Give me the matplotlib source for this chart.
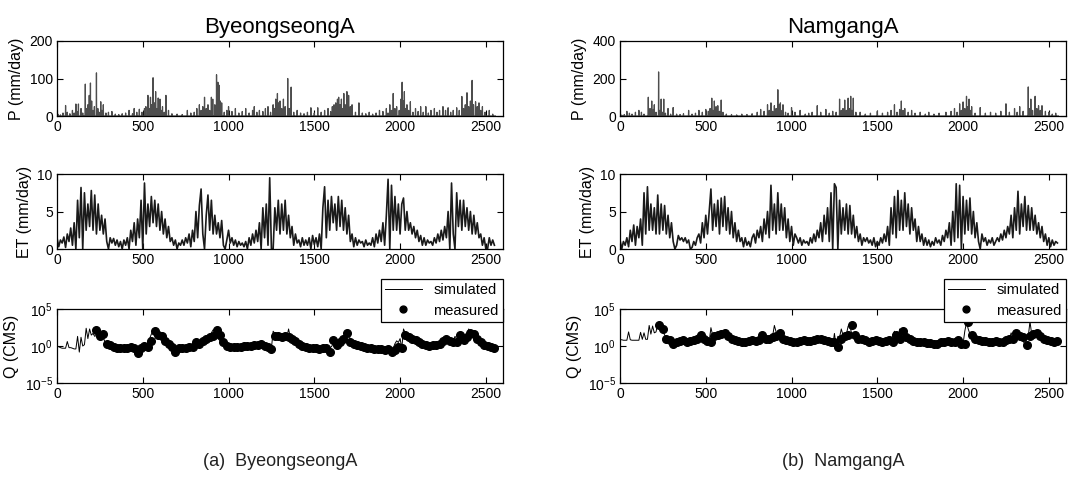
import numpy as np
import matplotlib
matplotlib.use('Agg')
import matplotlib.pyplot as plt

plt.rcParams['font.family'] = ['Liberation Sans', 'DejaVu Sans']

n_days = 2557
sites = ['ByeongseongA', 'NamgangA']
captions = ['(a)  ByeongseongA', '(b)  NamgangA']

# precipitation events (day, mm/day) -- zero on other days
p_days_a = [5, 20, 35, 50, 60, 75, 90, 100, 110, 118, 125, 140, 150, 165, 172, 180, 188, 195, 202, 210, 218, 230, 238, 245, 255, 262, 270, 285, 300, 320, 340, 360, 380, 400, 420, 440, 450, 465, 480, 495, 510, 518, 530, 538, 545, 552, 560, 568, 575, 582, 590, 600, 608, 615, 625, 635, 650, 670, 700, 730, 760, 780, 800, 815, 830, 840, 850, 860, 870, 880, 890, 900, 908, 920, 930, 938, 945, 952, 960, 975, 990, 1000, 1020, 1040, 1060, 1080, 1100, 1120, 1140, 1150, 1165, 1180, 1200, 1215, 1230, 1245, 1260, 1268, 1275, 1285, 1292, 1300, 1310, 1320, 1330, 1345, 1352, 1360, 1365, 1380, 1400, 1420, 1440, 1460, 1480, 1500, 1520, 1540, 1560, 1580, 1595, 1605, 1615, 1625, 1635, 1642, 1650, 1658, 1665, 1672, 1680, 1690, 1700, 1710, 1720, 1740, 1760, 1780, 1800, 1820, 1840, 1860, 1880, 1900, 1920, 1930, 1940, 1950, 1960, 1970, 1980, 1995, 2005, 2012, 2020, 2025, 2032, 2040, 2050, 2060, 2075, 2090, 2105, 2120, 2135, 2150, 2165, 2180, 2200, 2215, 2230, 2250, 2265, 2280, 2295, 2310, 2330, 2345, 2360, 2370, 2380, 2390, 2400, 2410, 2420, 2428, 2440, 2450, 2460, 2470, 2480, 2495, 2520, 2540]
p_vals_a = [5, 3, 8, 28, 10, 6, 15, 8, 32, 12, 32, 20, 8, 85, 20, 30, 55, 88, 40, 15, 25, 115, 20, 10, 38, 15, 30, 8, 10, 12, 5, 4, 6, 8, 15, 6, 20, 10, 18, 10, 20, 25, 55, 20, 50, 30, 102, 35, 65, 20, 48, 45, 15, 25, 10, 55, 15, 6, 5, 4, 15, 8, 10, 20, 30, 15, 25, 50, 20, 30, 15, 50, 45, 30, 110, 90, 82, 40, 35, 10, 15, 25, 12, 20, 8, 12, 20, 8, 15, 25, 10, 15, 12, 20, 25, 10, 30, 20, 45, 60, 35, 40, 20, 45, 25, 100, 20, 20, 77, 10, 15, 8, 6, 10, 22, 8, 22, 10, 15, 20, 12, 25, 30, 35, 45, 50, 30, 45, 20, 60, 30, 65, 55, 25, 30, 10, 35, 8, 6, 10, 5, 8, 15, 12, 20, 8, 30, 15, 60, 20, 25, 15, 45, 90, 40, 65, 20, 30, 15, 38, 10, 20, 12, 25, 10, 25, 8, 15, 20, 10, 15, 25, 15, 22, 10, 15, 22, 15, 52, 20, 30, 62, 25, 40, 95, 30, 38, 25, 35, 15, 25, 10, 15, 5]

p_days_b = [10, 25, 40, 55, 70, 90, 110, 125, 140, 165, 175, 185, 195, 200, 210, 225, 232, 240, 248, 255, 265, 280, 295, 310, 330, 350, 370, 400, 420, 440, 460, 480, 500, 515, 525, 535, 542, 550, 560, 570, 580, 590, 600, 620, 650, 680, 710, 740, 770, 800, 820, 840, 860, 870, 880, 890, 900, 910, 920, 928, 935, 945, 950, 965, 980, 1000, 1020, 1050, 1080, 1100, 1120, 1150, 1170, 1200, 1220, 1240, 1260, 1280, 1290, 1300, 1310, 1320, 1330, 1338, 1345, 1352, 1360, 1375, 1400, 1430, 1460, 1500, 1530, 1560, 1580, 1600, 1615, 1630, 1640, 1650, 1660, 1680, 1700, 1720, 1750, 1780, 1800, 1830, 1860, 1900, 1930, 1950, 1965, 1980, 1990, 2000, 2010, 2020, 2028, 2035, 2042, 2050, 2070, 2100, 2130, 2160, 2190, 2220, 2250, 2270, 2300, 2315, 2330, 2350, 2380, 2388, 2395, 2405, 2420, 2430, 2440, 2450, 2460, 2480, 2500, 2520, 2540]
p_vals_b = [5, 8, 25, 15, 10, 20, 30, 20, 10, 100, 40, 80, 35, 60, 20, 235, 30, 90, 20, 90, 15, 40, 10, 45, 10, 8, 12, 30, 10, 15, 30, 20, 35, 25, 40, 95, 30, 80, 50, 55, 25, 85, 20, 10, 8, 6, 10, 8, 12, 20, 35, 25, 60, 30, 70, 25, 55, 40, 140, 60, 70, 30, 60, 20, 15, 45, 20, 30, 10, 15, 20, 55, 20, 35, 15, 25, 20, 90, 30, 40, 85, 30, 95, 40, 105, 30, 95, 20, 20, 10, 15, 25, 15, 20, 30, 60, 20, 35, 80, 30, 40, 20, 30, 15, 20, 10, 20, 10, 15, 20, 25, 40, 20, 65, 30, 75, 40, 105, 50, 90, 30, 50, 15, 45, 15, 20, 15, 25, 65, 20, 40, 20, 50, 25, 155, 40, 90, 30, 105, 40, 55, 30, 55, 25, 20, 10, 15]

# ET, one value every 10 days (mm/day)
et_a = [1.5, 0.3, 1.2, 0.8, 1.6, 0.2, 2.0, 1.0, 2.8, 0.5, 3.5, 0.0, 6.5, 1.5, 8.2, 0.0, 7.5, 2.5, 6.0, 3.0, 7.8, 2.5, 7.2, 2.0, 6.0, 2.5, 4.5, 2.0, 4.0, 1.0, 0.0, 1.5, 0.8, 1.4, 0.5, 1.2, 0.3,
        1.0, 0.0, 1.2, 0.5, 1.5, 0.0, 2.5, 1.0, 3.5, 0.5, 4.0, 1.5, 6.5, 0.0, 8.8, 2.0, 6.0, 3.0, 7.0, 3.5, 6.5, 3.0, 6.0, 2.5, 5.0, 2.0, 4.0, 1.5, 3.0, 1.0, 1.5, 0.5, 1.2, 0.0, 0.8, 0.5,
        1.2, 0.5, 1.5, 0.8, 2.0, 0.3, 2.5, 1.0, 5.0, 1.5, 5.8, 8.0, 2.0, 0.0, 4.5, 7.2, 2.5, 6.5, 2.0, 4.5, 2.0, 3.5, 1.5, 3.8, 0.5, 0.0, 1.2, 2.5, 0.8, 1.5, 0.5, 1.2, 0.3, 1.0, 0.5, 0.8, 0.3,
        1.0, 0.0, 1.5, 0.5, 2.0, 0.8, 2.5, 1.0, 3.5, 0.0, 5.5, 1.5, 6.0, 0.5, 9.5, 0.0, 0.0, 5.5, 2.5, 6.5, 2.0, 6.0, 2.5, 6.5, 2.0, 4.5, 1.5, 3.0, 0.5, 2.0, 0.8, 1.2, 0.3, 1.5, 0.5, 1.2,
        0.5, 1.5, 0.0, 1.8, 0.6, 1.5, 0.3, 2.0, 0.0, 5.5, 8.3, 1.5, 6.5, 2.5, 7.0, 3.5, 6.0, 2.5, 7.0, 3.0, 6.5, 2.5, 5.5, 2.0, 4.5, 1.0, 2.0, 0.3, 1.5, 0.5, 1.2, 0.8, 1.0, 0.3, 1.2, 0.5, 0.8,
        0.5, 1.5, 0.3, 2.0, 0.8, 2.5, 1.0, 3.5, 0.5, 4.5, 9.3, 0.0, 8.5, 2.5, 7.0, 2.5, 6.0, 2.0, 6.0, 6.8, 2.5, 5.0, 2.5, 3.5, 2.0, 3.0, 1.5, 2.5, 1.0, 1.8, 0.5, 1.5, 0.5, 1.2, 0.8, 1.0, 0.5,
        1.5, 0.8, 2.0, 1.0, 2.5, 1.2, 3.0, 1.5, 5.0, 0.0, 8.8, 2.0, 0.0, 7.5, 3.0, 6.5, 2.5, 6.5, 3.0, 5.5, 2.5, 5.0, 2.0, 4.5, 2.0, 3.5, 1.5, 2.0, 0.5, 1.5, 0.0, 0.0, 1.5, 0.5, 1.2, 0.5]
et_b = [1.2, 0.0, 1.0, 0.5, 1.5, 0.3, 2.5, 1.0, 3.2, 0.5, 3.0, 1.5, 4.0, 0.5, 7.5, 2.0, 8.3, 2.5, 6.0, 2.5, 5.5, 2.0, 7.2, 2.0, 6.0, 2.5, 5.8, 2.0, 4.5, 1.5, 3.5, 1.0, 0.0, 0.5, 1.8, 1.2, 1.5,
        1.0, 1.5, 0.8, 1.2, 0.0, 0.2, 1.0, 0.5, 1.5, 2.0, 0.8, 3.5, 1.5, 4.5, 2.0, 5.0, 8.0, 2.5, 6.0, 3.0, 6.5, 2.0, 6.8, 3.0, 7.0, 2.5, 5.5, 2.0, 5.0, 1.5, 3.5, 1.0, 2.5, 1.0, 1.5, 0.3,
        1.5, 0.5, 1.0, 0.3, 1.5, 2.0, 0.8, 2.5, 1.5, 3.0, 1.0, 4.0, 2.0, 5.0, 1.5, 8.5, 2.5, 6.0, 2.0, 7.5, 2.5, 6.0, 2.5, 5.5, 1.5, 4.0, 1.0, 3.0, 0.5, 2.0, 1.5, 0.8, 1.5, 0.5, 1.2, 0.8, 1.0,
        0.5, 1.5, 0.8, 2.0, 1.0, 2.5, 1.5, 3.5, 1.0, 4.5, 2.0, 5.5, 1.0, 7.5, 0.0, 8.7, 8.2, 0.0, 6.5, 2.0, 5.5, 2.5, 6.0, 2.0, 5.8, 2.0, 4.5, 1.5, 3.0, 1.0, 2.0, 0.5, 1.5, 1.0, 1.5, 0.8,
        1.2, 0.5, 1.5, 0.3, 1.0, 0.5, 1.5, 0.8, 2.0, 1.0, 3.0, 0.5, 5.5, 2.0, 7.0, 1.5, 7.8, 2.5, 6.5, 2.5, 7.5, 3.0, 6.0, 2.0, 5.5, 2.5, 4.0, 1.0, 3.0, 1.0, 2.0, 0.5, 1.5, 0.5, 1.2, 0.3, 1.0,
        0.5, 1.5, 0.8, 1.2, 0.5, 1.8, 1.0, 2.5, 1.5, 3.5, 0.5, 5.0, 1.0, 8.7, 1.5, 8.5, 0.0, 7.0, 2.0, 6.5, 2.5, 6.8, 2.0, 5.0, 1.5, 3.5, 1.0, 0.0, 2.0, 1.0, 1.5, 0.5, 1.2, 0.8, 1.5, 0.5, 1.0,
        1.5, 1.0, 2.0, 1.2, 2.5, 1.5, 3.0, 2.0, 4.5, 1.5, 5.5, 2.5, 7.7, 2.0, 6.0, 3.0, 7.0, 2.5, 5.8, 2.5, 5.5, 2.5, 4.5, 2.0, 3.5, 1.5, 3.0, 1.0, 2.0, 0.5, 1.5, 0.3, 1.2, 0.5, 1.0, 0.8]

# simulated discharge, one value every 10 days (CMS)
q_sim_a = [1.0, 0.8, 0.6, 0.5, 0.5, 0.5, 4.0, 0.6, 0.6, 0.5, 0.4, 0.4, 20, 0.15, 15, 1.0, 1.5, 250, 10, 200, 30, 50, 20, 30, 150, 40, 10, 15, 3, 1.5, 1.0, 0.8, 0.7, 0.6, 0.6, 0.5, 0.5,
           0.5, 0.6, 0.5, 0.7, 0.8, 0.6, 0.5, 0.7, 0.6, 0.4, 0.5, 0.7, 0.8, 1.0,
           1.2, 1.5, 3.0, 10, 40, 80, 60, 30, 15, 10, 8, 5, 3, 2.5, 2,
           1.5, 1.0, 0.8, 0.5, 0.4, 0.5, 0.6, 0.7, 0.6, 0.7, 0.8, 0.9, 1.0, 1.2, 1.5,
           2, 3, 2.5, 4, 3, 5, 8, 10, 20, 60, 150, 80, 30, 10, 5,
           3, 2, 1.5, 1.2, 1.0, 0.8, 0.7, 0.8, 0.9, 0.8, 0.7, 0.8, 1.0, 1.2, 1.0,
           0.8, 1.0, 1.5, 2, 1.5, 1.2, 1.5, 2, 1.5, 1.0, 0.8, 1.0, 1.5, 0.6, 0.5,
           100, 50, 30, 20, 25, 15, 40, 20, 15, 200, 15, 10, 8, 5, 3,
           2.5, 2, 1.5, 1.2, 1.0, 0.8, 0.7, 0.6, 0.5, 0.6, 0.7, 0.5, 0.4, 0.5, 0.6,
           0.5, 0.3, 0.4, 0.6, 0.8, 2.0, 5, 3, 2, 4, 5, 3, 4, 10, 40,
           8, 4, 3, 2, 1.5, 1.2, 1.0, 0.8, 0.6, 0.5, 0.5, 0.4, 0.4, 0.3, 0.4,
           0.4, 0.4, 0.3, 0.4, 0.5, 0.4, 0.3, 0.2, 0.3, 0.4, 0.5, 2, 5, 3, 10,
           0.5, 200, 60, 30, 20, 15, 10, 8, 5, 4, 3, 2, 1.5, 1.2, 1.0,
           1.0, 0.8, 1.0, 1.2, 1.5, 2, 3, 2, 5, 8, 6, 5, 4, 3, 8,
           5, 20, 10, 5, 4, 5, 8, 6, 30, 200, 80, 40, 20, 10, 5,
           3, 2, 1.5, 1.2, 1.0, 0.8, 0.7, 0.6, 0.6, 0.6]
q_sim_b = [7, 7, 6, 6, 6, 80, 7, 6, 6, 6, 6, 6, 70, 8, 60, 8, 8, 600, 40, 500, 60, 80, 1000, 400, 150, 100, 30, 15, 10, 6, 3, 4, 5, 5, 5, 6, 6,
           5, 4, 5, 6, 5, 6, 7, 10, 30, 15, 10, 8, 6, 5,
           5, 4, 300, 30, 25, 30, 40, 60, 50, 25, 20, 12, 10, 8, 7,
           6, 5, 5, 4, 4, 4, 5, 5, 6, 5, 6, 6, 7, 8, 10,
           8, 20, 30, 15, 10, 8, 15, 20, 25, 600, 80, 40, 15, 10, 8,
           6, 5, 5, 4, 4, 4, 5, 6, 5, 5, 6, 5, 6, 8, 10,
           6, 5, 6, 8, 12, 10, 8, 6, 5, 4, 3, 3, 2, 1, 50,
           1, 20, 15, 200, 30, 25, 40, 500, 600, 50, 30, 15, 10, 8, 6,
           5, 4, 4, 5, 6, 5, 4, 4, 5, 5, 4, 5, 6, 5, 4,
           4, 5, 4, 30, 100, 20, 10, 200, 30, 10, 8, 6, 5, 4, 4,
           3, 3, 3, 3, 3, 2.5, 2.5, 2.5, 2, 2, 2, 2, 2.5, 3, 3,
           3, 4, 4, 5, 5, 4, 4, 3, 3, 4, 6, 5, 3, 2, 2,
           100, 1500, 200, 40, 20, 12, 10, 8, 6, 5, 5, 5, 4, 4, 4,
           4, 4, 5, 5, 4, 4, 5, 6, 8, 10, 10, 8, 60, 15, 10,
           60, 20, 15, 10, 5, 1.5, 10, 20, 2000, 40, 60, 80, 30, 20, 12,
           10, 8, 6, 5, 5, 5, 4, 4, 5, 5]

# measured discharge, one value every 20 days from day 230 (CMS)
q_meas_a = [150, 20, 40, 2, 1.2, 0.8, 0.6, 0.5, 0.5, 0.6, 0.7, 0.5, 0.12, 0.6, 1.0, 0.8, 5, 100, 30, 20, 5, 2, 0.8, 0.15, 0.5, 0.6, 0.5, 0.7, 0.8,
            3, 2, 5, 8, 15, 20, 150, 30, 3, 1.0, 0.8, 0.7, 0.8, 0.7, 0.9, 0.9, 1.0, 1.5, 1.2, 2, 1.0, 0.8, 0.4, 20, 25, 15, 20, 15, 8, 5,
            2, 1.0, 0.8, 0.6, 0.5, 0.6, 0.4, 0.5, 0.5, 0.15, 6, 1.5, 3, 10, 60, 4, 2, 1.2, 1.0, 0.7, 0.6, 0.5, 0.4, 0.4, 0.4, 0.3, 0.4,
            0.15, 0.3, 0.8, 0.6, 30, 15, 10, 6, 4, 2, 1.2, 1.0, 1.2, 1.5, 2, 5, 8, 5, 4, 3, 30, 6, 15, 60, 40, 8, 3, 1.5, 1.0, 0.7, 0.6]
q_meas_b = [800, 200, 10, 6, 2, 4, 5, 6, 4, 5, 6, 8, 30, 10, 5, 4, 20, 30, 40, 60, 20, 10, 6, 5, 4, 4, 5, 6, 5,
            6, 30, 10, 8, 15, 20, 60, 10, 6, 5, 4, 4, 5, 6, 5, 5, 6, 10, 8, 6, 5, 4, 3, 0.8, 10, 20, 30, 700, 30, 10,
            8, 6, 4, 5, 6, 5, 4, 5, 6, 4, 30, 10, 100, 15, 8, 5, 4, 3, 3, 2.5, 2.5, 2, 2, 3, 4, 5, 4,
            3, 6, 2, 2, 1500, 30, 10, 6, 5, 5, 4, 4, 5, 4, 4, 6, 10, 8, 60, 20, 15, 1.5, 20, 40, 60, 20, 10, 6, 5, 4, 5]

p_events = [(p_days_a, p_vals_a), (p_days_b, p_vals_b)]
p_ylims = [(0, 200, [0, 100, 200]), (0, 400, [0, 200, 400])]
et_series = [et_a, et_b]
q_sims = [q_sim_a, q_sim_b]
q_meas = [q_meas_a, q_meas_b]

fig = plt.figure(figsize=(10.9, 4.82), dpi=100)

lefts = [57 / 1090, 620 / 1090]
w = 446 / 1090
bottoms = [1 - 116 / 482, 1 - 249 / 482, 1 - 383 / 482]
hts = [75 / 482, 75 / 482, 74 / 482]


def style(ax):
    ax.set_xlim(0, 2600)
    ax.set_xticks([0, 500, 1000, 1500, 2000, 2500])
    ax.tick_params(direction='in', top=True, right=True, labelsize=10, length=4, width=0.8, pad=3)
    ax.tick_params(axis='y', which='minor', left=False, right=False)
    for s in ax.spines.values():
        s.set_linewidth(0.9)


days = np.arange(n_days)
for k in range(2):
    # precipitation
    ax = fig.add_axes([lefts[k], bottoms[0], w, hts[0]])
    p = np.zeros(n_days)
    p[p_events[k][0]] = p_events[k][1]
    ax.plot(days, p, color='#4d4d4d', lw=0.9)
    lo, hi, tk = p_ylims[k]
    ax.set_ylim(lo, hi)
    ax.set_yticks(tk)
    ax.set_ylabel('P (mm/day)', fontsize=11.5)
    ax.set_title(sites[k], fontsize=16, pad=6)
    style(ax)

    # evapotranspiration
    ax = fig.add_axes([lefts[k], bottoms[1], w, hts[1]])
    et = et_series[k]
    ax.plot(np.arange(len(et)) * 10, et, color='#1a1a1a', lw=1.2)
    ax.set_ylim(0, 10)
    ax.set_yticks([0, 5, 10])
    ax.set_ylabel('ET (mm/day)', fontsize=11.5)
    style(ax)

    # discharge
    ax = fig.add_axes([lefts[k], bottoms[2], w, hts[2]])
    qs = q_sims[k]
    qm = q_meas[k]
    ax.plot(np.arange(len(qs)) * 10, qs, color='black', lw=0.7, label='simulated')
    ax.plot(230 + np.arange(len(qm)) * 20, qm, 'o', color='black', ms=5.5, label='measured')
    ax.set_yscale('log')
    ax.set_ylim(1e-5, 1e5)
    ax.set_yticks([1e-5, 1e0, 1e5])
    ax.set_ylabel('Q (CMS)', fontsize=11.5)
    style(ax)
    leg = ax.legend(loc='upper right', bbox_to_anchor=(1.0, 1.41), borderaxespad=0,
                    fontsize=10.5, fancybox=False, edgecolor='black', framealpha=1,
                    handlelength=2.5, borderpad=0.3, labelspacing=0.45, markerscale=0.9)
    leg.get_frame().set_linewidth(0.9)

    fig.text(lefts[k] + w / 2, 1 - 461 / 482, captions[k], ha='center', va='center',
             fontsize=13, color='#222222')

fig.savefig('out.png', dpi=100)
